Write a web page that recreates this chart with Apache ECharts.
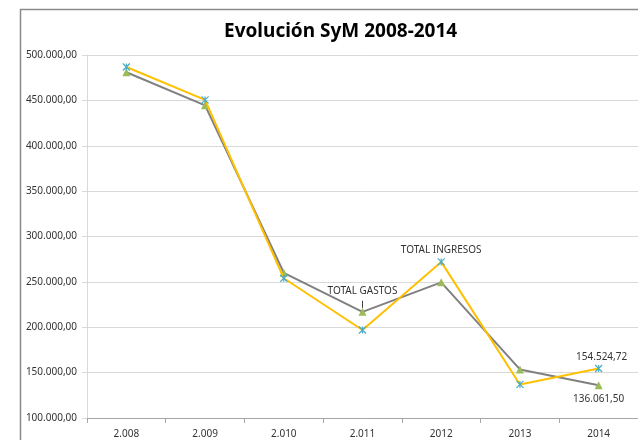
<!DOCTYPE html>
<html><head><meta charset="utf-8">
<script src="https://cdn.jsdelivr.net/npm/echarts@6/dist/echarts.min.js"></script>
<style>html,body{margin:0;padding:0;background:#fff}#c{width:638px;height:440px}</style>
</head><body><div id="c"></div>
<script>
const categories = ['2.008','2.009','2.010','2.011','2012','2013','2014'];
const totalGastos = [481000, 444500, 260000, 217000, 249500, 153500, 136061.50];
const totalIngresos = [486800, 450500, 254000, 197000, 272000, 137000, 154524.72];
const yTicks = [100000, 500000, 50000]; // min, max, interval
const titleText = 'Evolución SyM 2008-2014';
const gastosName = 'TOTAL GASTOS';
const ingresosName = 'TOTAL INGRESOS';

function fmt(v){
  const fixed = v.toFixed(2);
  let [i,d] = fixed.split('.');
  i = i.replace(/\B(?=(\d{3})+(?!\d))/g,'.');
  return i + ',' + d;
}
const FONT = 'Noto Sans';
const chart = echarts.init(document.getElementById('c'), null, {renderer:'canvas'});
const last = categories.length - 1;

const gData = totalGastos.map((v,i)=>{
  if (i===3) return {value:v, label:{show:true, position:'top', distance:12, formatter:gastosName}, labelLine:{show:true}};
  if (i===last) return {value:v, label:{show:true, position:'bottom', distance:5, formatter:(p)=>fmt(p.value)}};
  return v;
});
const iData = totalIngresos.map((v,i)=>{
  if (i===4) return {value:v, label:{show:true, position:'top', distance:3, formatter:ingresosName}};
  if (i===last) return {value:v, label:{show:true, position:'top', distance:2, offset:[3,0], formatter:(p)=>fmt(p.value)}};
  return v;
});

chart.setOption({
  animation:false,
  textStyle:{fontFamily:FONT},
  title:{text:titleText, left:219, top:17, textStyle:{fontFamily:FONT, fontSize:19, fontWeight:'bold', color:'#000'}},
  graphic:[{type:'rect', shape:{x:20.5, y:9.5, width:700, height:500}, style:{fill:'none', stroke:'#8a8a8a', lineWidth:1.5}, silent:true, z:-1}],
  grid:{left:87, top:55, bottom:22, width:557, containLabel:false},
  xAxis:{type:'category', data:categories, boundaryGap:true,
    axisLine:{lineStyle:{color:'#a6a6a6', width:1}},
    axisTick:{show:true, alignWithLabel:false, length:5, lineStyle:{color:'#a6a6a6'}},
    axisLabel:{color:'#333', fontSize:10, fontFamily:FONT, margin:11},
    splitLine:{show:false}},
  yAxis:{type:'value', min:yTicks[0], max:yTicks[1], interval:yTicks[2],
    axisLine:{show:true, lineStyle:{color:'#d9d9d9'}},
    axisTick:{show:true, length:5, lineStyle:{color:'#d9d9d9'}},
    axisLabel:{color:'#333', fontSize:10, fontFamily:FONT, margin:10, formatter:(v)=>fmt(v)},
    splitLine:{show:true, lineStyle:{color:'#d9d9d9', width:1}}},
  series:[
    {name:gastosName, type:'line', data:gData, symbol:'triangle', symbolSize:8,
     lineStyle:{color:'#808080', width:2}, itemStyle:{color:'#9BBB59'},
     label:{show:false, color:'#333', fontSize:10, fontFamily:FONT},
     labelLine:{show:false, lineStyle:{color:'#404040', width:1}},
     z:2},
    {name:ingresosName, type:'line', data:iData,
     symbol:'path://M0,0L10,10M10,0L0,10M5,0L5,10', symbolSize:7,
     lineStyle:{color:'#FFC000', width:2}, itemStyle:{color:'#4BACC6', borderColor:'#4BACC6', borderWidth:1.2},
     label:{show:false, color:'#333', fontSize:10, fontFamily:FONT},
     z:3}
  ]
});
</script></body></html>
